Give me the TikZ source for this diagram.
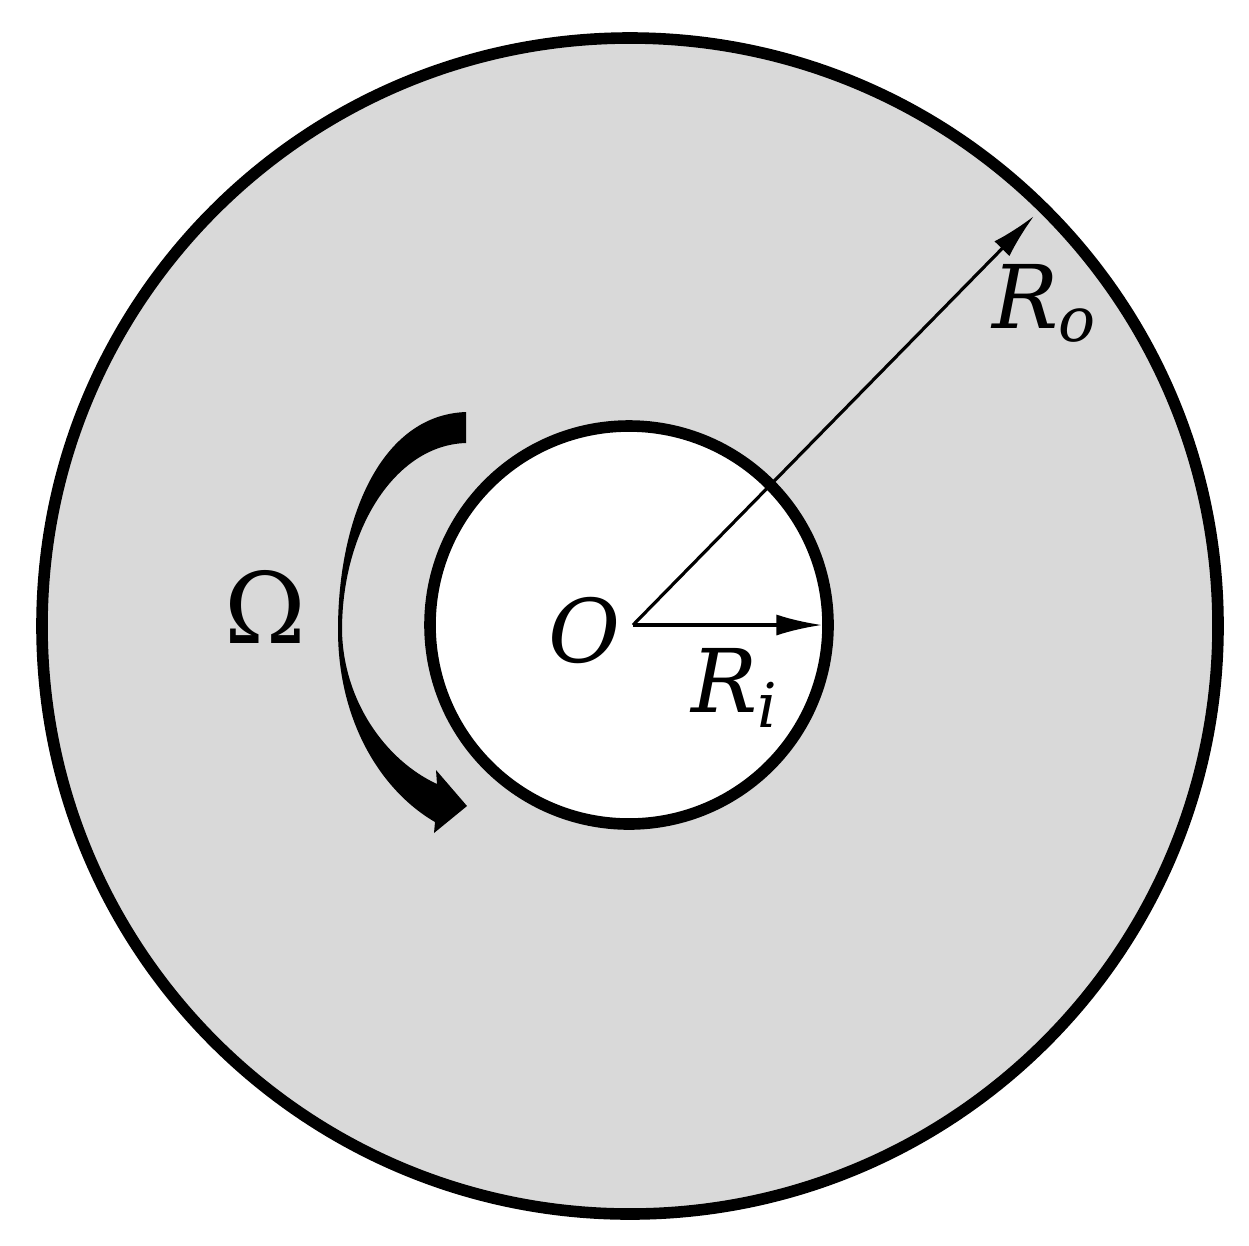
\documentclass[tikz,border=0pt]{standalone}
\usepackage{fontspec}
\setmainfont{DejaVu Serif}
\usetikzlibrary{arrows.meta}
\begin{document}
\begin{tikzpicture}[x=0.01cm,y=-0.01cm,
  ring/.style={line width=3.3pt},
  lbl/.style={font=\fontsize{25}{30}\selectfont\itshape, inner sep=0},
  rad/.style={line width=0.9pt,-{Latex[length=13pt,width=6pt]}}]
\useasboundingbox (0,0) rectangle (1249,1245);
\fill[gray!30] (630,626) circle (588);
\draw[ring] (630,626) circle (588);
\fill[white] (629,625) circle (199);
\draw[ring] (629,625) circle (199);
\coordinate (o) at (633,625);
\coordinate (ri) at (822,625);
\coordinate (ro) at (1034,216);
\draw[rad] (o) -- (ri);
\draw[rad] (o) -- (ro);
\node[lbl] (ol) at (585,630) {O};
\node[lbl] (ril) at (735,688) {R$_{\mathit i}$};
\node[lbl] (rol) at (1045,303) {R$_{\mathit o}$};
\node[font=\fontsize{28}{34}\selectfont, inner sep=0] (om) at (265,607) {Ω};
\fill (466,412) .. controls (380,415) and (338,520) .. (338,630)
  .. controls (338,720) and (380,790) .. (435,822)
  -- (434,833) -- (467,806) -- (436,770) -- (437,784)
  .. controls (385,760) and (343,700) .. (342,630)
  .. controls (342,530) and (395,445) .. (466,443) -- cycle;
\end{tikzpicture}
\end{document}
